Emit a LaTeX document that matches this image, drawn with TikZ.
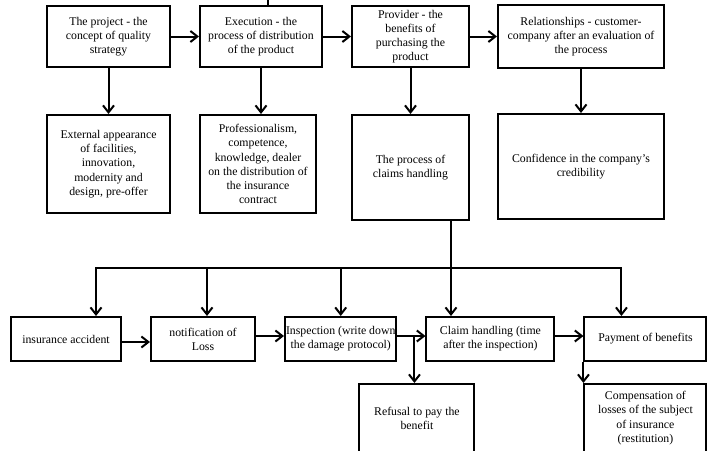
\documentclass[tikz,border=0pt]{standalone}
\usepackage{fontspec}
\setmainfont{Liberation Serif}
\usetikzlibrary{arrows.meta,positioning}
\tikzset{>={Straight Barb[length=7pt,width=11pt]},node distance=28pt}
\tikzset{box/.style={draw,rectangle,align=center,inner sep=1pt,font=\fontsize{11.8}{14.2}\selectfont}}

\begin{document}
\begin{tikzpicture}[x=1pt,y=-1pt,line width=2pt]
                \useasboundingbox (0,0) rectangle (715,450);
                \clip (0,0) rectangle (715,450);
                \node[box,minimum width=123pt,minimum height=61pt] (proj) at (108.5,36.5) {The project - the\\concept of quality\\strategy};
                \node[box,minimum width=122pt,minimum height=61pt] (exec) [right=of proj] {Execution - the\\process of distribution\\of the product};
                \node[box,minimum width=117pt,minimum height=61pt] (prov) [right=of exec] {Provider - the\\benefits of\\purchasing the\\product};
                \node[box,minimum width=166pt,minimum height=63pt] (rel) [right=27pt of prov] {Relationships - customer-\\company after an evaluation of\\the process};
                \node[box,minimum width=123pt,minimum height=98pt] (appear) [below=46pt of proj] {External appearance\\of facilities,\\innovation,\\modernity and\\design, pre-offer};
                \node[box,minimum width=116pt,minimum height=98pt] (prof) [below=46pt of exec,xshift=-3pt] {Professionalism,\\competence,\\knowledge, dealer\\on the distribution of\\the insurance\\contract};
                \node[box,minimum width=117pt,minimum height=105pt] (claims) [below=46pt of prov] {The process of\\claims handling};
                \node[box,minimum width=166pt,minimum height=105pt] (conf) [below=44pt of rel] {Confidence in the company's\\credibility};
                \node[box,minimum width=110pt,minimum height=44pt] (acc) at (66,339) {insurance accident};
                \node[box,minimum width=104pt,minimum height=44pt] (notif) [right=of acc] {notification of\\Loss};
                \node[box,minimum width=111pt,minimum height=44pt] (insp) [right=of notif] {Inspection (write down\\the damage protocol)};
                \node[box,minimum width=128pt,minimum height=44pt] (handl) [right=of insp] {Claim handling (time\\after the inspection)};
                \node[box,minimum width=122pt,minimum height=44pt] (pay) [right=of handl] {Payment of benefits};
                \coordinate (fork) at ([xshift=17pt,yshift=3pt]insp.east);
                \coordinate (split) at ([xshift=40.5pt,yshift=-47pt]claims.south);
                \coordinate (top) at ([xshift=7pt,yshift=10pt]exec.north);
                \node[box,minimum width=115pt,minimum height=68pt] (refuse) [below=47pt of fork,xshift=2.5pt] {Refusal to pay the\\benefit};
                \node[box,minimum width=122pt,minimum height=68pt] (comp) [below=21pt of pay] {Compensation of\\losses of the subject\\of insurance\\(restitution)};
                \path[->]
                    (proj) edge (exec)
                    (exec) edge (prov)
                    (prov) edge (rel)
                    (proj) edge (appear)
                    (exec.south) edge (exec.south |- prof.north)
                    (prov) edge (claims)
                    (rel) edge (conf)
                    ([yshift=-3pt]acc.east) edge ([yshift=-3pt]notif.west)
                    ([yshift=3pt]notif.east) edge ([yshift=3pt]insp.west)
                    ([yshift=3pt]insp.east) edge ([yshift=3pt]handl.west)
                    ([yshift=3pt]handl.east) edge ([yshift=3pt]pay.west)
                    (fork) edge (fork |- refuse.north)
                    (pay.south west) edge (comp.north west);
                \draw (top) -- (top |- exec.north);
                \draw (claims.south -| split) -- (split);
                \draw[->] (split) -| ([xshift=30pt]acc.north);
                \draw[->] (split) -| ([xshift=4pt]notif.north);
                \draw[->] (split) -| (insp.north);
                \draw[->] (split) -- (split |- handl.north);
                \draw[->] (split) -| ([xshift=-24pt]pay.north);
            \end{tikzpicture}
\end{document}
